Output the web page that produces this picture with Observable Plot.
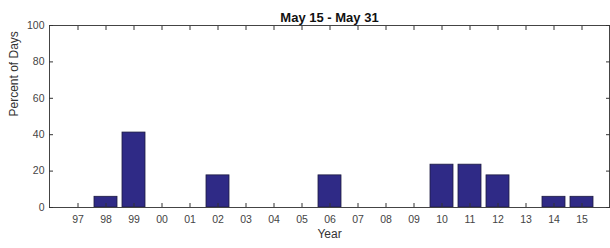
<!DOCTYPE html>
<html>
<head>
<meta charset="utf-8">
<script src="https://cdn.jsdelivr.net/npm/d3@7"></script>
<script src="https://cdn.jsdelivr.net/npm/@observablehq/plot@0.6"></script>
<style>
  html, body { margin: 0; padding: 0; background: #fff; }
  svg { display: block; }
</style>
</head>
<body>
<div id="chart"></div>
<script>
const title = "May 15 - May 31";
const xLabel = "Year";
const yLabel = "Percent of Days";
const years = ["97","98","99","00","01","02","03","04","05","06","07","08","09","10","11","12","13","14","15"];
const percents = [0, 5.88, 41.18, 0, 0, 17.65, 0, 0, 0, 17.65, 0, 0, 0, 23.53, 23.53, 17.65, 0, 5.88, 5.88];
const yTicks = [0, 20, 40, 60, 80, 100];

const data = years.map((y, i) => ({year: y, pct: percents[i]}));
const axisColor = "#333";

const chart = Plot.plot({
  width: 610,
  height: 248,
  marginLeft: 49,
  marginRight: 1,
  marginTop: 25,
  marginBottom: 41,
  style: {fontFamily: "'Liberation Sans', Arial, sans-serif", background: "#fff", color: axisColor},
  x: {type: "band", domain: years, paddingInner: 0.18, paddingOuter: 0.59},
  y: {domain: [0, 100]},
  marks: [
    Plot.barY(data, {x: "year", y: "pct", fill: "#2f2a86", stroke: "#1c1a40", strokeWidth: 0.8}),
    Plot.frame({stroke: "#444", strokeWidth: 1}),
    Plot.axisX({anchor: "bottom", tickSize: -4, tickPadding: 12, fontSize: 10.5, fill: "#444", label: null, stroke: axisColor}),
    Plot.axisX({anchor: "top", tickSize: -4, tickFormat: () => "", label: null, stroke: axisColor}),
    Plot.axisY({anchor: "left", ticks: yTicks, tickSize: -4, tickPadding: 9, fontSize: 10.5, fill: "#444", label: null, stroke: axisColor}),
    Plot.axisY({anchor: "right", ticks: yTicks, tickSize: -4, tickFormat: () => "", label: null, stroke: axisColor}),
    Plot.text([yLabel], {frameAnchor: "left", dx: -35, rotate: -90, fontSize: 12, fill: "#333"}),
    Plot.text([xLabel], {frameAnchor: "bottom", dy: 30, fontSize: 12, fill: "#333"}),
    Plot.text([title], {frameAnchor: "top", dy: -13, fontSize: 13, fontWeight: "bold", fill: "#111"})
  ]
});
document.getElementById("chart").appendChild(chart);
</script>
</body>
</html>
